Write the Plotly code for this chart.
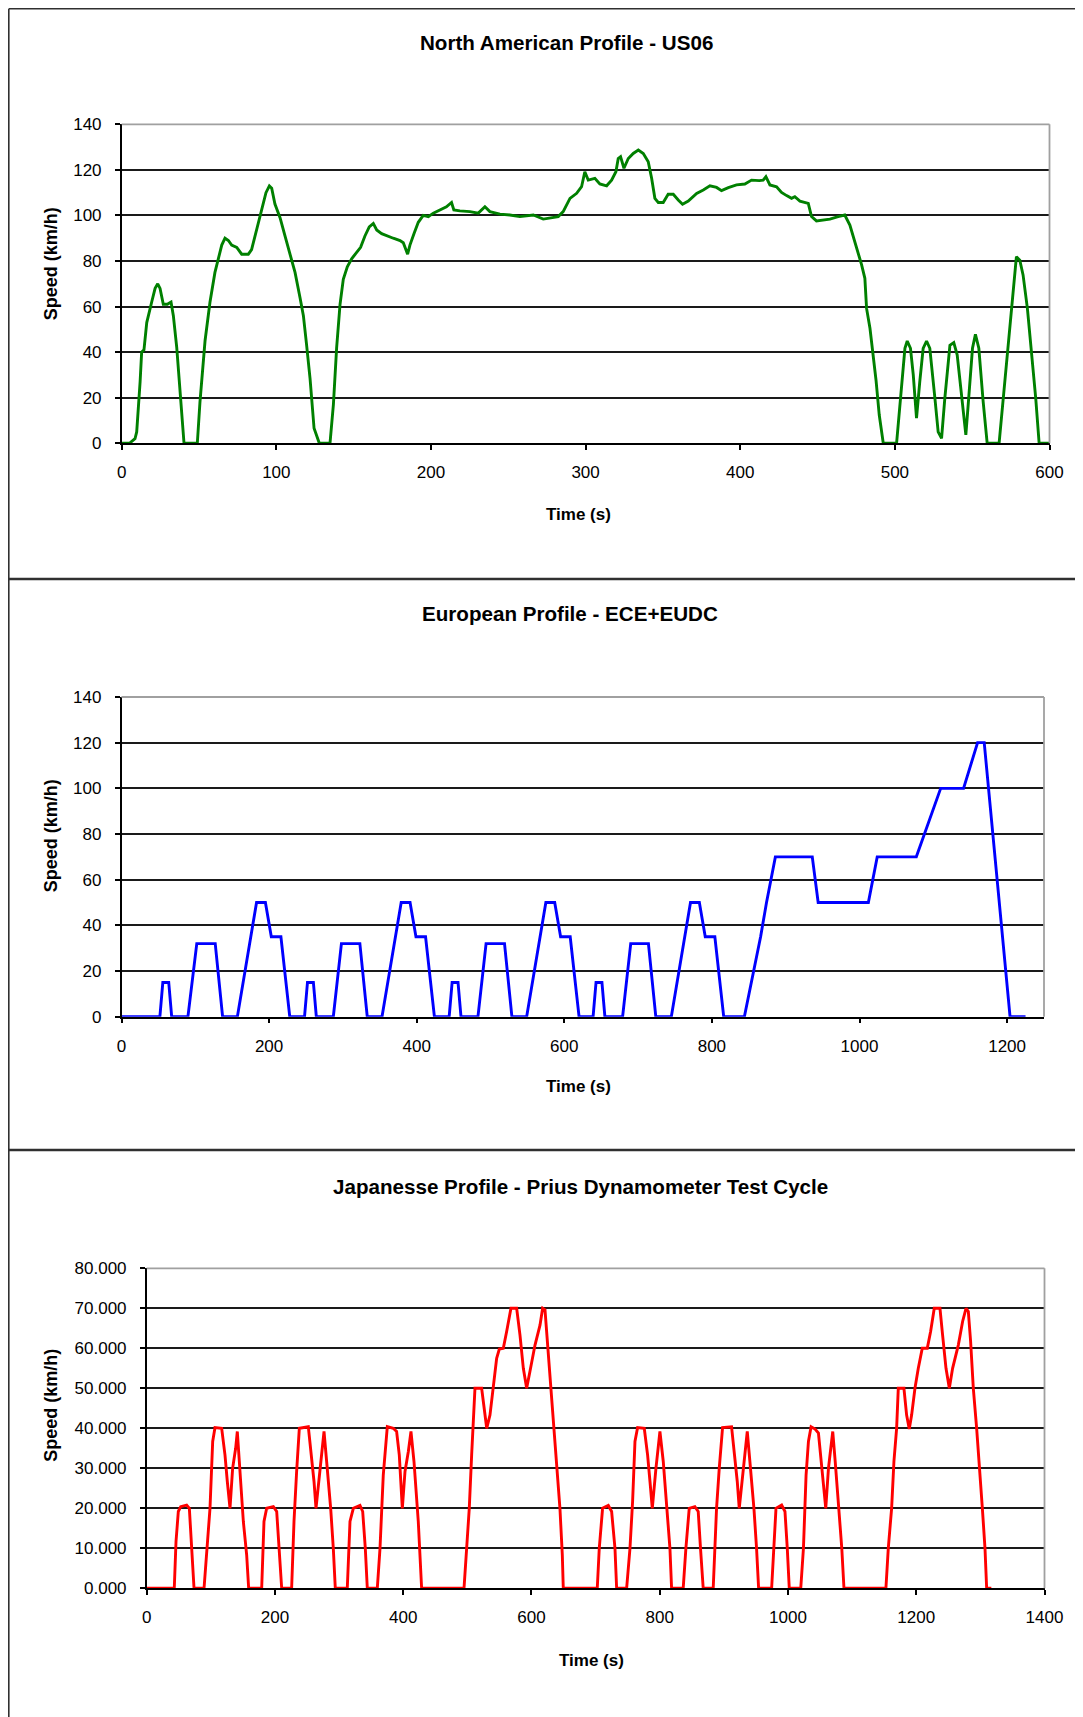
import plotly.graph_objects as go

W, H = 1083, 1717
OFF = 8  # default page margin of the browser body
FW, FH = W - OFF, H - OFF

# ---------------- data ----------------
us06_time = [
    0, 5, 8.6, 9.7, 11.9, 12.9, 14.4, 16.2, 19.4, 21.6,
    23.3, 24.8, 26.9, 29.5, 31.9, 33.4, 35.6, 37.7, 40.3, 48.9,
    50.6, 53.9, 57.1, 60.3, 62.5, 64.7, 66.8, 69, 71.1, 74.4,
    77.6, 81.9, 84, 87.3, 90.5, 93.3, 95.5, 97, 99.1, 102.4,
    105.6, 108.8, 112.1, 115.3, 117.5, 119.6, 121.8, 124.4, 126.1, 127.8,
    134.7, 136.9, 139, 141.2, 143.3, 145.9, 148.7, 151.9, 154.5, 157.3,
    160.1, 162.7, 164.9, 168.1, 171.3, 175.6, 180, 182.1, 184.9, 186.4,
    189, 191.8, 195, 198.3, 201.5, 205.8, 210, 213.3, 214.8, 218.7,
    225.2, 230.6, 234.9, 238.1, 244.6, 251, 257.5, 266.2, 272.6, 282.3,
    285.5, 289.9, 294.2, 297.4, 299.5, 301.7, 306, 309.2, 313.6, 316.8,
    319.6, 321.1, 322.6, 324.8, 327.6, 330.8, 334.1, 337.3, 340.5, 342.7,
    344.8, 347, 350.2, 353.4, 356.7, 359.9, 362.7, 366.4, 371.8, 376.1,
    380.4, 384.7, 387.9, 392.3, 397.6, 403, 407.3, 412.3, 414.8, 416.6,
    419.2, 423.5, 426.7, 430, 433.2, 435.3, 438.6, 444, 446.1, 449.3,
    458, 463.3, 467.6, 470.9, 474.8, 478.5, 480.6, 481.7, 483.9, 486,
    487.8, 489.9, 492.5, 501.1, 504.3, 506.5, 508, 510.1, 511.9, 514,
    516.1, 518.3, 520.5, 522.6, 525.9, 528, 530.2, 532.3, 535.6, 538.1,
    540.3, 543.1, 545.9, 547.4, 550.2, 552.1, 554.3, 557.1, 559.7, 567.4,
    570, 573.2, 575.4, 577.5, 578.6, 580.8, 582.9, 585.7, 588.3, 591.1,
    593.3, 600,
]
us06_speed = [
    0, 0, 2, 5, 27, 40, 41, 53, 62, 68,
    70, 68, 61, 61, 62, 56, 42, 24, 0, 0,
    18, 45, 62, 75, 81, 87, 90, 89, 87, 86,
    83, 83, 85, 94, 103, 110, 113, 112, 105, 99,
    91, 83, 75, 64, 56, 43, 28.5, 6.6, 3.7, 0,
    0, 17, 42, 61, 72, 77.5, 81, 84, 86, 91,
    95, 96.5, 93.6, 92, 91, 90, 89, 88, 83, 87,
    92, 97, 100, 99.5, 101, 102.4, 103.8, 105.7, 102.4, 102,
    101.7, 101, 103.8, 101.7, 100.6, 100.2, 99.5, 100.2, 98.4, 99.5,
    101.7, 107.5, 109.7, 112.6, 119.2, 115.5, 116.3, 113.8, 113, 115.5,
    119.2, 125, 125.8, 120.7, 125, 127.2, 128.7, 127.2, 123.6, 116.3,
    107.5, 105.7, 105.7, 109.3, 109.3, 106.8, 104.9, 106.3, 109.7, 111.2,
    113, 112.3, 110.9, 112.2, 113.4, 113.8, 115.5, 115.3, 115.5, 117,
    113.4, 112.6, 110.1, 108.7, 107.5, 108.2, 106.3, 105.3, 99.5, 97.6,
    98.4, 99.5, 100.2, 95.8, 87, 78.3, 72.4, 59.2, 50.5, 38.8,
    27.8, 12.4, 0, 0, 27, 41.7, 44.9, 41.7, 30, 11,
    27, 41.7, 44.9, 41.7, 19.7, 5, 2.2, 19.7, 43, 44.2,
    38.8, 19.7, 3.7, 16.8, 41.7, 47.8, 41.7, 18.3, 0, 0,
    19.7, 41.7, 59.2, 73.9, 81.9, 80.4, 73.9, 59.2, 41.7, 19.7,
    0, 0,
]

nedc_time = [
    0, 52, 56, 64, 68, 90, 102, 127, 137, 157, 183, 195, 203, 216, 228,
    248, 252, 260, 264, 287, 298, 323, 333, 353, 379, 391, 399, 412, 424,
    444, 448, 456, 460, 483, 494, 519, 529, 549, 575, 587, 595, 608, 620,
    639, 643, 651, 655, 679, 690, 714, 724, 745, 771, 783, 791, 804, 816,
    844, 866, 874, 886, 936, 944, 1012, 1024, 1077, 1110, 1141, 1160, 1169, 1204, 1225,
]
nedc_speed = [
    0, 0, 15, 15, 0, 0, 32, 32, 0, 0, 50, 50, 35, 35, 0,
    0, 15, 15, 0, 0, 32, 32, 0, 0, 50, 50, 35, 35, 0,
    0, 15, 15, 0, 0, 32, 32, 0, 0, 50, 50, 35, 35, 0,
    0, 15, 15, 0, 0, 32, 32, 0, 0, 50, 50, 35, 35, 0,
    0, 35, 50, 70, 70, 50, 50, 70, 70, 100, 100, 120, 120, 0, 0,
]

jp_time = [
    0, 43, 45.7, 49.3, 53, 62.3, 66.5, 70.1, 73.8,
    89.4, 93.5, 98.7, 102.9, 106.5, 116.9, 122.1, 125.7, 129.9, 134, 138.7, 141.3, 145.5, 150.7, 155.9, 159,
    179.3, 182.9, 187.1, 197.5, 202.7, 206.8, 210.5,
    226, 229.7, 233.8, 238, 252, 257.2, 260.9, 264, 270.2, 276.5, 280.6, 286.9, 291, 294.1,
    312.8, 317, 322.2, 332.6, 336.8, 340.9, 344,
    359.6, 363.8, 368.9, 375.2, 384.5, 389.7, 393.9, 398.6, 402.8, 408, 412.1, 416.8, 423.5, 428.7,
    494.8, 498.9, 503, 506.7, 511.9, 522.3, 530.2, 535.3, 540.5, 545.7, 549.9, 556.1, 561.3, 568, 576.9,
    582.1, 587.3, 592.5, 597.6, 605.5, 613.3, 617.4, 621.1, 624.7, 629.9, 635.1, 640.3, 644.4, 648.1, 649.6,
    702.6, 705.7, 710.9, 719.8, 725, 730.2, 732.8,
    748.4, 753.6, 757.7, 761.4, 765.5, 775.9, 781.1, 784.8, 788.4, 794.1, 800.3, 805.5, 810.7, 815.9, 818.5,
    836.6, 840.8, 846, 854.8, 860, 863.6, 867.8,
    883.4, 888.6, 892.8, 898, 912, 917.2, 920.9, 924, 930.2, 936.5, 940.6, 946.9, 951, 954.2,
    974.5, 978.2, 981.3, 990.1, 995.3, 998.9, 1002,
    1019.9, 1024.1, 1028.2, 1031.9, 1036, 1042.3, 1047.5, 1051.6, 1055.3, 1058.9, 1063.1, 1069.8, 1073.5, 1079.7, 1083.9, 1087.3,
    1152.7, 1156.4, 1161.6, 1165.2, 1169.4, 1172, 1180.8, 1185, 1189.1, 1192.8, 1198, 1203.2, 1209.4, 1217.2, 1222.4, 1228.1, 1237,
    1241.1, 1246.4, 1251.6, 1256.7, 1265.6, 1272.3, 1277.6, 1281.2, 1284.8, 1289, 1294.2, 1299.4, 1303.1, 1307.2, 1309.8, 1317.1,
]
jp_speed = [
    0, 0, 11.7, 19.2, 20.4, 20.8, 20, 10, 0,
    0, 10, 20, 36.7, 40.2, 40, 33.3, 26.7, 20, 30, 35, 39.2, 30, 16.7, 8.3, 0,
    0, 16.7, 20, 20.4, 19.2, 10, 0,
    0, 16.7, 29.2, 40, 40.4, 33.3, 26.7, 20, 29.2, 39.2, 31.7, 20, 10, 0,
    0, 16.7, 20, 20.7, 19.2, 10, 0,
    0, 10, 28.3, 40.4, 40, 39.2, 33.3, 20, 29.2, 34.2, 39.2, 31.7, 16.7, 0,
    0, 10, 20, 33.3, 50, 50, 40, 43.3, 50, 57.5, 59.8, 60, 64.2, 70, 70,
    63.3, 55, 50, 54.2, 60.8, 65.8, 70, 69.6, 61.7, 50, 40, 29.2, 20, 8.3, 0,
    0, 10, 20, 20.7, 19.2, 10, 0,
    0, 10, 21.7, 36.7, 40.2, 40, 33.3, 26.7, 20, 30, 39.2, 31.7, 20, 10, 0,
    0, 10, 20, 20.4, 19.2, 10, 0,
    0, 20, 30, 40.2, 40.4, 33.3, 26.7, 20, 30, 39.2, 31.7, 20, 10, 0,
    0, 10, 20, 20.8, 19.2, 10, 0,
    0, 10, 28.3, 36.7, 40.4, 39.8, 38.8, 31.7, 25, 20, 30, 39.2, 32, 20, 10, 0,
    0, 10, 20, 31.7, 40, 50, 50, 43.3, 39.8, 43.3, 50, 55, 60, 60, 64.2, 70, 70,
    63.3, 55, 50, 55, 60.8, 66.7, 70, 69.2, 61.7, 50, 40, 29.2, 20, 10, 0, 0,
]

assert len(us06_time) == len(us06_speed), (len(us06_time), len(us06_speed))
assert len(nedc_time) == len(nedc_speed), (len(nedc_time), len(nedc_speed))
assert len(jp_time) == len(jp_speed), (len(jp_time), len(jp_speed))

titles = ["North American Profile - US06",
          "European Profile - ECE+EUDC",
          "Japanesse Profile - Prius Dynamometer Test Cycle"]
x_title = "Time (s)"
y_title = "Speed (km/h)"

# ---------------- layout helpers ----------------
FONT = "Liberation Sans, Arial, sans-serif"


def px(x):
    # window pixel -> paper fraction
    return (x - OFF) / FW


def py(y):
    return 1 - (y - OFF) / FH


panels = [
    dict(x=us06_time, y=us06_speed, color="#008000",
         xd=(121.7, 1049.5), yd=(124.3, 443.3), xr=[0, 600], yr=[0, 140], dy=20, fmt="",
         title_xy=(566, 42.5), xt_xy=(578, 515), yt_xy=(50.7, 263.6)),
    dict(x=nedc_time, y=nedc_speed, color="#0000ff",
         xd=(121.5, 1044.0), yd=(697.0, 1016.7), xr=[0, 1250], yr=[0, 140], dy=20, fmt="",
         title_xy=(570, 613.5), xt_xy=(578, 1086), yt_xy=(50.7, 835.5)),
    dict(x=jp_time, y=jp_speed, color="#ff0000",
         xd=(146.7, 1044.5), yd=(1268.3, 1588.3), xr=[0, 1400], yr=[0, 80], dy=10, fmt=".3f",
         title_xy=(580, 1186), xt_xy=(591.5, 1660), yt_xy=(50.7, 1405)),
]

fig = go.Figure()
annotations = []
shapes = []

for i, p in enumerate(panels, start=1):
    xa = "x" if i == 1 else f"x{i}"
    ya = "y" if i == 1 else f"y{i}"
    fig.add_trace(go.Scatter(x=p["x"], y=p["y"], mode="lines",
                             line=dict(color=p["color"], width=2.9),
                             xaxis=xa, yaxis=ya, showlegend=False,
                             hoverinfo="x+y"))
    xkey = "xaxis" if i == 1 else f"xaxis{i}"
    ykey = "yaxis" if i == 1 else f"yaxis{i}"
    fig.update_layout(**{
        xkey: dict(domain=[px(p["xd"][0]), px(p["xd"][1])], anchor=ya,
                   range=p["xr"], tick0=0, dtick=200 if i > 1 else 100,
                   automargin=False,
                   showgrid=False, zeroline=False,
                   showline=True, linecolor="#000000", linewidth=1.5,
                   ticks="outside", ticklen=5, tickwidth=1.5, tickcolor="#000000",
                   ticklabelstandoff=8,
                   tickfont=dict(family=FONT, size=17, color="#000000")),
        ykey: dict(domain=[py(p["yd"][1]), py(p["yd"][0])], anchor=xa,
                   range=p["yr"], tick0=0, dtick=p["dy"], tickformat=p["fmt"],
                   automargin=False,
                   showgrid=True, gridcolor="#1a1a1a", gridwidth=1.8,
                   zeroline=False,
                   showline=True, linecolor="#000000", linewidth=1.5,
                   ticks="outside", ticklen=5, tickwidth=1.5, tickcolor="#000000",
                   ticklabelstandoff=10,
                   tickfont=dict(family=FONT, size=17, color="#000000")),
    })
    # plot-area border (grey top and right edges)
    shapes.append(dict(type="line", xref=f"{xa} domain", yref=f"{ya} domain",
                       x0=0, x1=1, y0=1, y1=1, layer="above",
                       line=dict(color="#a0a0a0", width=1.8)))
    shapes.append(dict(type="line", xref=f"{xa} domain", yref=f"{ya} domain",
                       x0=1, x1=1, y0=0, y1=1, layer="above",
                       line=dict(color="#a0a0a0", width=1.8)))
    tx, ty = p["title_xy"]
    annotations.append(dict(text=f"<b>{titles[i-1]}</b>", x=px(tx), y=py(ty),
                            xref="paper", yref="paper", showarrow=False,
                            xanchor="center", yanchor="middle",
                            font=dict(family=FONT, size=20.6, color="#000000")))
    ax_, ay_ = p["xt_xy"]
    annotations.append(dict(text=f"<b>{x_title}</b>", x=px(ax_), y=py(ay_),
                            xref="paper", yref="paper", showarrow=False,
                            xanchor="center", yanchor="middle",
                            font=dict(family=FONT, size=17, color="#000000")))
    bx, by = p["yt_xy"]
    annotations.append(dict(text=f"<b>{y_title}</b>", x=px(bx), y=py(by),
                            xref="paper", yref="paper", showarrow=False,
                            xanchor="center", yanchor="middle", textangle=-90,
                            font=dict(family=FONT, size=18, color="#000000")))

# outer chart frames
frame = dict(color="#303030", width=1.6)
shapes.append(dict(type="line", xref="paper", yref="paper", layer="above",
                   x0=px(8.8), x1=1, y0=py(8.8), y1=py(8.8), line=frame))
shapes.append(dict(type="line", xref="paper", yref="paper", layer="above",
                   x0=px(8.8), x1=px(8.8), y0=py(8.8), y1=0, line=frame))
for yy in (579, 1150):
    shapes.append(dict(type="line", xref="paper", yref="paper", layer="above",
                       x0=px(8.8), x1=1, y0=py(yy), y1=py(yy),
                       line=dict(color="#303030", width=2.6)))

fig.update_layout(width=FW, height=FH, autosize=False,
                  margin=dict(l=0, r=0, t=0, b=0, pad=0),
                  paper_bgcolor="#ffffff", plot_bgcolor="#ffffff",
                  annotations=annotations, shapes=shapes,
                  font=dict(family=FONT, color="#000000"))

fig.write_html("out.html", config={"displayModeBar": False, "responsive": False})
